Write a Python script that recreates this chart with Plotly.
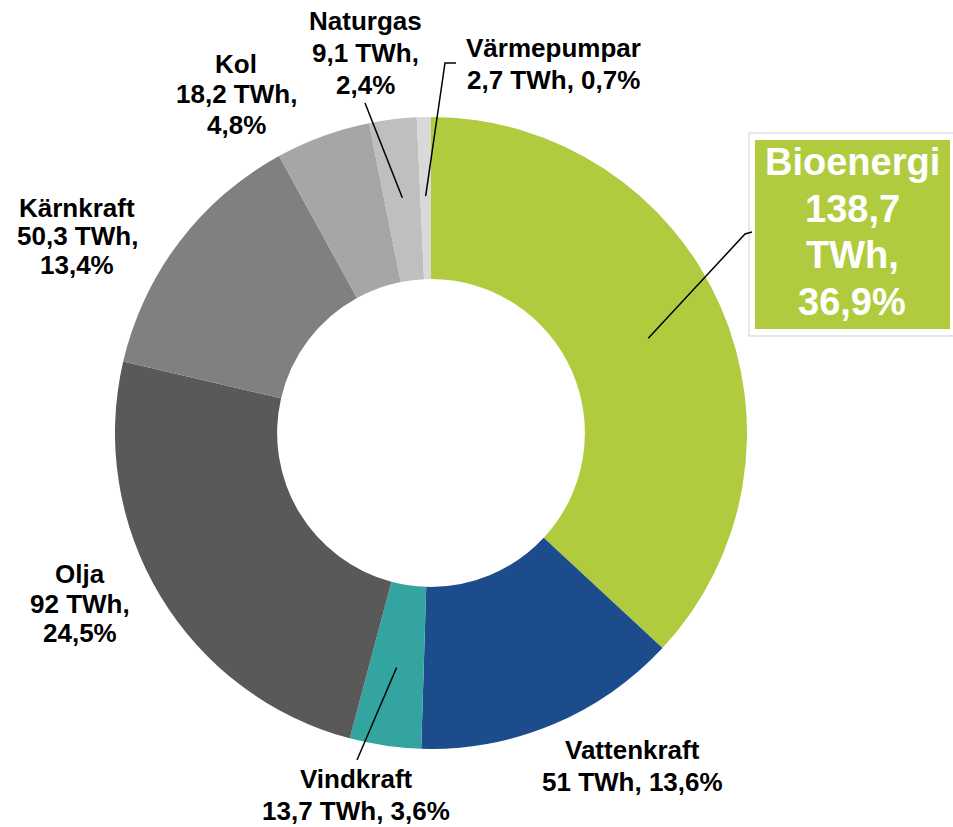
import numpy as np
import plotly.graph_objects as go

W, H = 953, 827

names = ["Bioenergi", "Vattenkraft", "Vindkraft", "Olja", "Kärnkraft", "Kol", "Naturgas", "Värmepumpar"]
values = [138.7, 51, 13.7, 92, 50.3, 18.2, 9.1, 2.7]
colors = ["#B1CB3F", "#1C4C8C", "#34A4A0", "#595959", "#808080", "#A6A6A6", "#BFBFBF", "#D9D9D9"]
# how each label's lines are arranged
templates = [
    "{n}|{v}|TWh,|{p}%",
    "{n}|{v} TWh, {p}%",
    "{n}|{v} TWh, {p}%",
    "{n}|{v} TWh,|{p}%",
    "{n}|{v} TWh,|{p}%",
    "{n}|{v} TWh,|{p}%",
    "{n}|{v} TWh,|{p}%",
    "{n}|{v} TWh, {p}%",
]
# label placement in pixels: centre x, first line y (from top), line spacing
label_x = [852, 632, 356, 80, 77, 236, 365, 553]
label_y0 = [162, 750, 779, 574, 208, 64, 21, 48]
label_dy = [46.7, 32, 32, 29.5, 28.5, 30.5, 32, 32]
# leader line end points (None = no leader)
leader_end = [[(745, 234), (752, 232)], None, [(357, 760)], None, None, None, [(365, 103)], [(445, 63), (456, 63)]]

total = sum(values)
pct = [v / total * 100 for v in values]

def fmt(x, nd=None):
    s = f"{x:.{nd}f}" if nd is not None else f"{x:g}"
    return s.replace(".", ",")

texts = [t.format(n=n, v=fmt(v), p=fmt(p, 1)).split("|") for t, n, v, p in zip(templates, names, values, pct)]

# pie geometry (pixels)
cx, cy, R = 431, 433, 316
dom_x = [(cx - R) / W, (cx + R) / W]
dom_y = [(H - cy - R) / H, (H - cy + R) / H]

fig = go.Figure(go.Pie(
    labels=names, values=values, sort=False, direction="clockwise", rotation=0,
    hole=0.487, marker=dict(colors=colors, line=dict(width=0)),
    textinfo="none", hoverinfo="label+value+percent", showlegend=False,
    domain=dict(x=dom_x, y=dom_y),
))

def px(x, y):
    return x / W, 1 - y / H

# leader lines from slice middle
cum = np.cumsum([0] + values)
shapes = []
for i, ends in enumerate(leader_end):
    if ends is None:
        continue
    mid = (cum[i] + cum[i + 1]) / 2 / total * 2 * np.pi
    ax_ = cx + 0.75 * R * np.sin(mid)
    ay_ = cy - 0.75 * R * np.cos(mid)
    pts = [(ax_, ay_)] + ends
    path = "M " + " L ".join(f"{px(x, y)[0]:.5f},{px(x, y)[1]:.5f}" for x, y in pts)
    shapes.append(dict(type="path", xref="paper", yref="paper", path=path,
                       line=dict(color="black", width=1.5)))

# outline box and fill for Bioenergi label
shapes.append(dict(type="rect", xref="paper", yref="paper",
                   x0=749 / W, x1=958 / W, y0=1 - 336 / H, y1=1 - 133 / H,
                   line=dict(color="#CFCFCF", width=1), fillcolor="white", layer="below"))
shapes.append(dict(type="rect", xref="paper", yref="paper",
                   x0=755 / W, x1=950 / W, y0=1 - 329 / H, y1=1 - 140 / H,
                   line=dict(width=0), fillcolor=colors[0], layer="below"))

annotations = []
for i, lines in enumerate(texts):
    big = i == 0
    for k, line in enumerate(lines):
        xp, yp = px(label_x[i], label_y0[i] + k * label_dy[i])
        annotations.append(dict(
            x=xp, y=yp, xref="paper", yref="paper", text=line, showarrow=False,
            font=dict(family="Liberation Sans, Arial", size=38 if big else 26,
                      color="white" if big else "black", weight="bold"),
            align="center", xanchor="center", yanchor="middle",
        ))

fig.update_layout(
    width=W, height=H, margin=dict(l=0, r=0, t=0, b=0),
    paper_bgcolor="white", plot_bgcolor="white",
    shapes=shapes, annotations=annotations,
)

fig.write_html("out.html", config={"displayModeBar": False},
               post_script="document.body.style.margin='0';")
